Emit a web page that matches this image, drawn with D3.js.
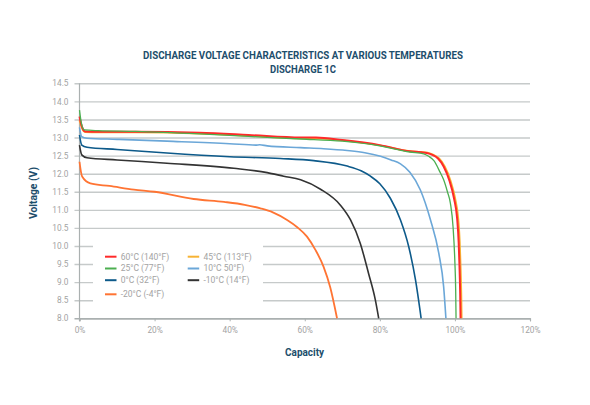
<!DOCTYPE html>
<html>
<head>
<meta charset="utf-8">
<script src="https://cdn.jsdelivr.net/npm/d3@7"></script>
<style>
  html, body { margin: 0; padding: 0; background: #fff; }
  svg { display: block; }
</style>
</head>
<body>
<svg id="chart" width="590" height="405"></svg>
<script>
// ---- data ----
const titleLines = ["DISCHARGE VOLTAGE CHARACTERISTICS AT VARIOUS TEMPERATURES", "DISCHARGE 1C"];
const xTicks = [0, 20, 40, 60, 80, 100, 120];
const yTicks = [8.0, 8.5, 9.0, 9.5, 10.0, 10.5, 11.0, 11.5, 12.0, 12.5, 13.0, 13.5, 14.0, 14.5];
const seriesNames = ["60°C (140°F)", "45°C (113°F)", "25°C (77°F)", "10°C 50°F)", "0°C (32°F)", "-10°C (14°F)", "-20°C (-4°F)"];

const s60 = [[0,13.58],[0.5,13.35],[1.5,13.17],[5,13.16],[15,13.16],[32,13.13],[45,13.07],[59,13.0],[63,13.0],[70,12.93],[80,12.79],[88,12.62],[91,12.59],[92.5,12.57],[94,12.52],[95.5,12.42],[97,12.2],[98.5,11.82],[99.8,11.3],[100.6,10.75],[101.0,10.1],[101.2,9.5],[101.4,8.7],[101.5,8.0]];
const s45 = [[0,13.48],[0.5,13.3],[1.5,13.15],[5,13.14],[15,13.14],[32,13.11],[45,13.05],[59,12.98],[63,12.98],[70,12.92],[80,12.78],[88,12.62],[91,12.6],[92.7,12.58],[94.3,12.52],[95.8,12.42],[97.3,12.2],[98.8,11.82],[100.1,11.3],[100.9,10.75],[101.3,10.1],[101.5,9.5],[101.7,8.7],[101.8,8.0]];
const s25 = [[0,13.76],[0.5,13.4],[1.3,13.21],[5,13.19],[15,13.17],[32,13.10],[45,13.03],[59,12.96],[70,12.9],[80,12.77],[88,12.6],[91.7,12.55],[93,12.48],[94.4,12.36],[96,12.05],[97,11.83],[98,11.5],[98.8,11.18],[99.5,10.53],[100,9.52],[100.2,8.8],[100.3,8.0]];
const s10 = [[0,13.28],[0.6,13.02],[2,12.98],[10,12.95],[23.3,12.9],[40,12.83],[47,12.79],[48,12.8],[50,12.77],[58.9,12.72],[65,12.69],[71.3,12.64],[76,12.58],[80.2,12.48],[83,12.38],[85.5,12.27],[88,12.04],[90.8,11.55],[93.5,10.72],[95.7,9.8],[97.0,8.87],[97.6,8.0]];
const s0 = [[0,13.07],[0.6,12.79],[2,12.73],[10,12.67],[23.3,12.57],[40,12.47],[53.5,12.42],[62.4,12.36],[71.3,12.21],[75,12.08],[77.5,11.93],[80,11.72],[82.8,11.32],[85.5,10.72],[87.7,9.98],[89.5,9.06],[91.0,8.0]];
const sM10 = [[0,12.79],[0.6,12.52],[2,12.44],[10,12.38],[23.3,12.29],[41.1,12.15],[50,12.03],[54.4,11.93],[58.9,11.83],[64.2,11.57],[69.5,11.13],[72.2,10.72],[74.8,10.07],[77.0,9.24],[78.8,8.51],[79.7,8.0]];
const sM20 = [[0,12.33],[0.7,11.92],[2.9,11.73],[8,11.66],[14.5,11.56],[20,11.5],[30.4,11.3],[38.5,11.22],[44,11.14],[48.2,11.04],[51.5,10.93],[55.3,10.72],[58,10.52],[60.6,10.26],[62.8,9.9],[65,9.43],[66.8,8.85],[68.6,8.0]];

const seriesData = [s60, s45, s25, s10, s0, sM10, sM20];
const seriesColors = ["#ff2a2a", "#f7b334", "#4caf50", "#6ba7d8", "#0d5a8a", "#333333", "#ff7433"];
const seriesWidths = [2, 1.8, 1.3, 1.6, 1.6, 1.6, 1.8];
const drawOrder = [1, 0, 2, 3, 4, 5, 6];

// ---- chart ----
const svg = d3.select("#chart");
const x = d3.scaleLinear().domain([0, 120]).range([79.5, 530]);
const y = d3.scaleLinear().domain([8, 14.5]).range([318.3, 83.3]);
const gridColor = "#c6caca";
const axisColor = "#aab0b0";
const labelColor = "#a3a3a3";
const titleColor = "#1d4e6c";

// title
svg.append("text").attr("x", 303).attr("y", 59).attr("text-anchor", "middle")
  .attr("font-family", "Roboto, 'DejaVu Sans', sans-serif").attr("font-weight", "bold")
  .attr("font-size", 11).attr("fill", titleColor)
  .attr("textLength", 320).attr("lengthAdjust", "spacingAndGlyphs")
  .text(titleLines[0]);
svg.append("text").attr("x", 303).attr("y", 73.3).attr("text-anchor", "middle")
  .attr("font-family", "Roboto, 'DejaVu Sans', sans-serif").attr("font-weight", "bold")
  .attr("font-size", 11).attr("fill", titleColor)
  .attr("textLength", 66).attr("lengthAdjust", "spacingAndGlyphs")
  .text(titleLines[1]);

// gridlines + y axis
const yAxis = d3.axisLeft(y).tickValues(yTicks).tickFormat(d3.format(".1f"))
  .tickSize(-(x.range()[1] - x.range()[0])).tickPadding(11);
const gy = svg.append("g").attr("transform", `translate(${x.range()[0]},0)`).call(yAxis);
gy.select(".domain").remove();
gy.selectAll(".tick line").attr("stroke", gridColor).attr("stroke-width", 1.4).attr("x1", -5);
gy.selectAll(".tick text").attr("fill", labelColor).attr("font-size", 8.3)
  .attr("font-family", "Roboto, sans-serif");
gy.selectAll(".tick").filter(d => d === 8).select("line").attr("stroke", axisColor);

// legend background box (masks gridlines)
svg.append("rect").attr("x", 93).attr("y", 238).attr("width", 170).attr("height", 68).attr("fill", "#fff");

// x axis
const xAxis = d3.axisBottom(x).tickValues(xTicks).tickFormat(d => d + "%").tickSize(3).tickPadding(6);
const gx = svg.append("g").attr("transform", `translate(0,${y(8)})`).call(xAxis);
gx.select(".domain").attr("stroke", axisColor).attr("stroke-width", 1.2);
gx.selectAll(".tick line").attr("stroke", axisColor);
gx.selectAll(".tick text").attr("fill", labelColor).attr("font-size", 8.3)
  .attr("font-family", "Roboto, sans-serif");

// y axis line
svg.append("line").attr("x1", x(0)).attr("x2", x(0)).attr("y1", y(14.5)).attr("y2", y(8) + 3)
  .attr("stroke", axisColor).attr("stroke-width", 1.2);

// axis titles
svg.append("text").attr("x", 304.6).attr("y", 356).attr("text-anchor", "middle")
  .attr("font-family", "Roboto, sans-serif").attr("font-weight", "bold").attr("font-size", 11.5)
  .attr("fill", titleColor).attr("textLength", 39).attr("lengthAdjust", "spacingAndGlyphs")
  .text("Capacity");
svg.append("text").attr("transform", "translate(36.5,193) rotate(-90)").attr("text-anchor", "middle")
  .attr("font-family", "Roboto, sans-serif").attr("font-weight", "bold").attr("font-size", 11.5)
  .attr("fill", titleColor).attr("textLength", 52).attr("lengthAdjust", "spacingAndGlyphs")
  .text("Voltage (V)");

// series
const line = d3.line().x(d => x(d[0])).y(d => y(d[1])).curve(d3.curveMonotoneX);
const gs = svg.append("g");
drawOrder.forEach(i => {
  gs.append("path").datum(seriesData[i]).attr("d", line)
    .attr("fill", "none").attr("stroke", seriesColors[i]).attr("stroke-width", seriesWidths[i])
    .attr("stroke-linejoin", "round");
});

// legend
const legendPos = [[105, 256.7], [187.7, 256.7], [105, 268.5], [187.7, 268.5], [105, 280.2], [187.7, 280.2], [105, 294.3]];
const gl = svg.append("g");
seriesNames.forEach((name, i) => {
  const [lx, ly] = legendPos[i];
  gl.append("line").attr("x1", lx).attr("x2", lx + 11.5).attr("y1", ly).attr("y2", ly)
    .attr("stroke", seriesColors[i]).attr("stroke-width", 2);
  gl.append("text").attr("x", lx + 15.7).attr("y", ly).attr("dy", "0.35em")
    .attr("font-family", "Roboto, sans-serif").attr("font-size", 8.5).attr("fill", labelColor)
    .text(name);
});
</script>
</body>
</html>
